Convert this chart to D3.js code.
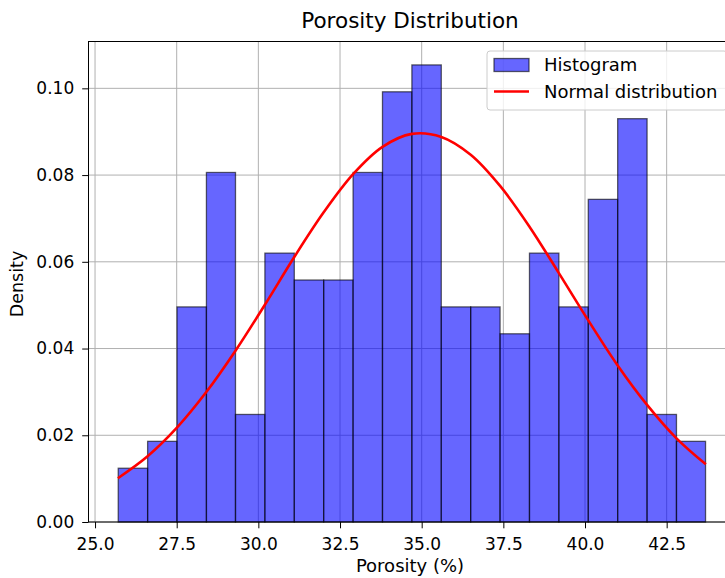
<!DOCTYPE html>
<html>
<head>
<meta charset="utf-8">
<script src="https://cdn.jsdelivr.net/npm/d3@7"></script>
<style>
  body { margin: 0; background: #fff; }
  text { font-family: "DejaVu Sans", sans-serif; fill: #000; }
</style>
</head>
<body>
<div id="chart"></div>
<script>
// histogram bin edges (porosity %) and density per bin
const binEdges = [25.71, 26.61, 27.51, 28.41, 29.30, 30.20, 31.10, 32.00, 32.90, 33.80,
                  34.70, 35.60, 36.50, 37.40, 38.30, 39.20, 40.10, 41.00, 41.90, 42.80, 43.69];
const densities = [0.0124, 0.0186, 0.0496, 0.0806, 0.0248, 0.0620, 0.0558, 0.0558, 0.0806, 0.0992,
                   0.1054, 0.0496, 0.0496, 0.0434, 0.0620, 0.0496, 0.0744, 0.0930, 0.0248, 0.0186];

// normal curve samples
const curveX = [25.7, 26.6, 27.5, 28.4, 29.3, 30.2, 31.1, 32.0, 32.9, 33.8, 34.7,
                35.6, 36.5, 37.4, 38.3, 39.2, 40.1, 41.0, 41.9, 42.8, 43.7];
const curveY = [0.0101, 0.0151, 0.0217, 0.0299, 0.0395, 0.0501, 0.0611, 0.0714, 0.0802, 0.0865, 0.0895,
                0.0888, 0.0847, 0.0775, 0.0681, 0.0574, 0.0465, 0.0361, 0.0270, 0.0193, 0.0133];

const xTicks = [25.0, 27.5, 30.0, 32.5, 35.0, 37.5, 40.0, 42.5];
const yTicks = [0.00, 0.02, 0.04, 0.06, 0.08, 0.10];

const width = 725, height = 578;
const margin = { top: 41.5, right: -7, bottom: 56, left: 88.5 };

const svg = d3.select("#chart").append("svg")
  .attr("width", width)
  .attr("height", height);

const x = d3.scaleLinear()
  .domain([24.8, 44.5])
  .range([margin.left, width - margin.right]);
const y = d3.scaleLinear()
  .domain([0, 0.1108])
  .range([height - margin.bottom, margin.top]);

// grid
const grid = svg.append("g");
grid.selectAll(".vg").data(xTicks).join("line")
  .attr("x1", d => x(d)).attr("x2", d => x(d))
  .attr("y1", y(0)).attr("y2", margin.top)
  .attr("stroke", "#b0b0b0").attr("stroke-width", 1);
grid.selectAll(".hg").data(yTicks).join("line")
  .attr("x1", margin.left).attr("x2", width - margin.right)
  .attr("y1", d => y(d)).attr("y2", d => y(d))
  .attr("stroke", "#b0b0b0").attr("stroke-width", 1);

// bars
const bins = densities.map((d, i) => ({ x0: binEdges[i], x1: binEdges[i + 1], v: d }));
svg.append("g").selectAll("rect").data(bins).join("rect")
  .attr("x", d => x(d.x0))
  .attr("width", d => x(d.x1) - x(d.x0))
  .attr("y", d => y(d.v))
  .attr("height", d => y(0) - y(d.v))
  .attr("fill", "blue").attr("fill-opacity", 0.6)
  .attr("stroke", "#000").attr("stroke-opacity", 0.6).attr("stroke-width", 1.3);

// normal curve
const pts = curveX.map((d, i) => [d, curveY[i]]);
svg.append("path")
  .datum(pts)
  .attr("fill", "none")
  .attr("stroke", "red")
  .attr("stroke-width", 2.6)
  .attr("d", d3.line().x(d => x(d[0])).y(d => y(d[1])).curve(d3.curveCatmullRom));

// axes
const xAxis = svg.append("g")
  .attr("transform", `translate(0,${y(0)})`)
  .call(d3.axisBottom(x).tickValues(xTicks).tickFormat(d3.format(".1f")).tickSizeOuter(0).tickSize(6.3).tickPadding(8.5));
const yAxis = svg.append("g")
  .attr("transform", `translate(${margin.left},0)`)
  .call(d3.axisLeft(y).tickValues(yTicks).tickFormat(d3.format(".2f")).tickSizeOuter(0).tickSize(6.3).tickPadding(8));
[xAxis, yAxis].forEach(g => {
  g.select(".domain").remove();
  g.selectAll("text").style("font-family", "DejaVu Sans").style("font-size", "17px").attr("fill", "#000");
  g.selectAll("line").attr("stroke", "#000").attr("stroke-width", 1);
});
xAxis.selectAll("text").attr("dy", 0).attr("y", 549.5 - y(0));

// spines
svg.append("rect")
  .attr("x", margin.left).attr("y", margin.top)
  .attr("width", width - margin.right - margin.left)
  .attr("height", y(0) - margin.top)
  .attr("fill", "none").attr("stroke", "#000").attr("stroke-width", 1);

// title and labels
svg.append("text")
  .attr("x", 410).attr("y", 28)
  .attr("text-anchor", "middle")
  .style("font-size", "21.5px")
  .text("Porosity Distribution");
svg.append("text")
  .attr("x", 410).attr("y", 572)
  .attr("text-anchor", "middle")
  .style("font-size", "18px")
  .text("Porosity (%)");
svg.append("text")
  .attr("transform", "translate(23,284) rotate(-90)")
  .attr("text-anchor", "middle")
  .style("font-size", "17.5px")
  .text("Density");

// legend
const lg = svg.append("g");
lg.append("rect")
  .attr("x", 487).attr("y", 51).attr("width", 240).attr("height", 59)
  .attr("rx", 3)
  .attr("fill", "#fff").attr("fill-opacity", 0.8)
  .attr("stroke", "#cccccc").attr("stroke-width", 1);
lg.append("rect")
  .attr("x", 494).attr("y", 58.5).attr("width", 35).attr("height", 13)
  .attr("fill", "blue").attr("fill-opacity", 0.6)
  .attr("stroke", "#000").attr("stroke-opacity", 0.6).attr("stroke-width", 1.3);
lg.append("line")
  .attr("x1", 494).attr("x2", 529).attr("y1", 91.5).attr("y2", 91.5)
  .attr("stroke", "red").attr("stroke-width", 2.6);
lg.append("text").attr("x", 544).attr("y", 70.5).style("font-size", "18px").text("Histogram");
lg.append("text").attr("x", 544).attr("y", 98).style("font-size", "18px").text("Normal distribution");
</script>
</body>
</html>
